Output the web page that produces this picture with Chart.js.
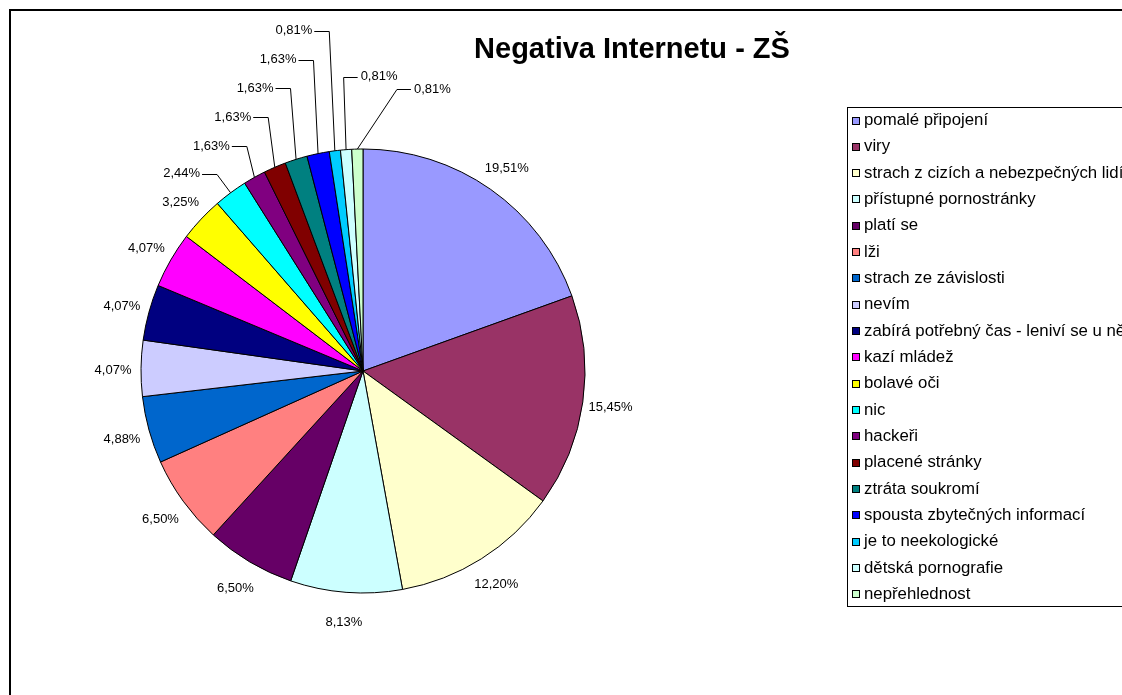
<!DOCTYPE html>
<html>
<head>
<meta charset="utf-8">
<title>Negativa Internetu - ZŠ</title>
<script src="https://cdn.jsdelivr.net/npm/chart.js@4.4.0/dist/chart.umd.min.js"></script>
<style>
  html, body { margin: 0; padding: 0; background: #fff; overflow: hidden; }
  /* the sheet is bigger than the window, Excel's frame and legend run off the right edge */
  #wrap { position: absolute; left: 0; top: 0; width: 1300px; height: 760px; }
</style>
</head>
<body>
<div id="wrap"><canvas id="pie" width="1300" height="760"></canvas></div>
<script>
const titleText = "Negativa Internetu - ZŠ";

const categories = [
  "pomalé připojení",
  "viry",
  "strach z cizích a nebezpečných lidí",
  "přístupné pornostránky",
  "platí se",
  "lži",
  "strach ze závislosti",
  "nevím",
  "zabírá potřebný čas - leniví se u něj",
  "kazí mládež",
  "bolavé oči",
  "nic",
  "hackeři",
  "placené stránky",
  "ztráta soukromí",
  "spousta zbytečných informací",
  "je to neekologické",
  "dětská pornografie",
  "nepřehlednost"
];

// percent of answers
const shares = [19.51, 15.45, 12.20, 8.13, 6.50, 6.50, 4.88, 4.07, 4.07, 4.07,
                3.25, 2.44, 1.63, 1.63, 1.63, 1.63, 0.81, 0.81, 0.81];

// old excel palette
const sliceColors = [
  "#9999FF", "#993366", "#FFFFCC", "#CCFFFF", "#660066", "#FF8080", "#0066CC",
  "#CCCCFF", "#000080", "#FF00FF", "#FFFF00", "#00FFFF", "#800080", "#800000",
  "#008080", "#0000FF", "#00CCFF", "#CCFFFF", "#CCFFCC"
];

// small slices: label moved away from the edge and joined with a leader line
const leaderOffsets = {
  11: [-49, -19],
  12: [-43, -31],
  13: [-42, -50],
  14: [-41, -71],
  15: [-40, -94],
  16: [-41, -120],
  17: [33, -73],
  18: [75, -60]
};

const FONT = "Arial, 'Liberation Sans', sans-serif";

function fmtPct(v) {
  return v.toFixed(2).replace(".", ",") + "%";
}

const excelLook = {
  id: "excelLook",
  afterDraw(chart) {
    const ctx = chart.ctx;
    ctx.save();

    // chart frame
    ctx.strokeStyle = "#000";
    ctx.lineWidth = 2;
    ctx.strokeRect(10, 10, 2000, 2000);

    // title
    ctx.fillStyle = "#000";
    ctx.font = "bold 29px " + FONT;
    ctx.textAlign = "center";
    ctx.textBaseline = "alphabetic";
    ctx.fillText(titleText, 632, 58);

    // data labels
    ctx.font = "13px " + FONT;
    ctx.textBaseline = "middle";
    ctx.lineWidth = 1;
    const meta = chart.getDatasetMeta(0);
    meta.data.forEach((arc, i) => {
      const p = arc.getProps(["x", "y", "startAngle", "endAngle", "outerRadius"], true);
      const mid = (p.startAngle + p.endAngle) / 2;
      const ex = p.x + Math.cos(mid) * p.outerRadius;
      const ey = p.y + Math.sin(mid) * p.outerRadius;
      const txt = fmtPct(shares[i]);
      const w = ctx.measureText(txt).width;
      const off = leaderOffsets[i];
      ctx.textAlign = "center";
      if (off) {
        const lx = ex + off[0], ly = ey + off[1];
        ctx.fillText(txt, lx, ly);
        const left = off[0] < 0;
        const sx = left ? lx + w / 2 + 2 : lx - w / 2 - 3;
        const bx = left ? sx + 15 : sx - 14;
        ctx.beginPath();
        ctx.moveTo(sx, Math.round(ly) + 0.5);
        ctx.lineTo(bx, Math.round(ly) + 0.5);
        ctx.lineTo(ex, ey);
        ctx.stroke();
      } else {
        const d = p.outerRadius + 28;
        ctx.fillText(txt, p.x + Math.cos(mid) * d, p.y + Math.sin(mid) * d + 2);
      }
    });

    // legend box
    const items = chart.options.plugins.legend.labels.generateLabels(chart);
    const rowH = 26.33;
    ctx.strokeStyle = "#000";
    ctx.strokeRect(847.5, 107.5, 1000, 499);
    ctx.font = "16.8px " + FONT;
    ctx.textAlign = "left";
    items.forEach((it, i) => {
      const cy = 120.5 + i * rowH;
      const my = Math.round(cy - 4) + 0.5;
      ctx.fillStyle = it.fillStyle;
      ctx.fillRect(852.5, my, 7, 7);
      ctx.strokeRect(852.5, my, 7, 7);
      ctx.fillStyle = "#000";
      ctx.fillText(it.text, 864, cy);
    });

    ctx.restore();
  }
};

new Chart(document.getElementById("pie"), {
  type: "pie",
  data: {
    labels: categories,
    datasets: [{
      data: shares,
      backgroundColor: sliceColors,
      borderColor: "#000",
      borderWidth: 1,
      hoverOffset: 0
    }]
  },
  options: {
    responsive: false,
    animation: false,
    events: [],
    radius: 222,
    layout: { padding: { left: 140, top: 148, right: 714, bottom: 166 } },
    plugins: {
      legend: { display: false },
      title: { display: false },
      tooltip: { enabled: false }
    }
  },
  plugins: [excelLook]
});
</script>
</body>
</html>
